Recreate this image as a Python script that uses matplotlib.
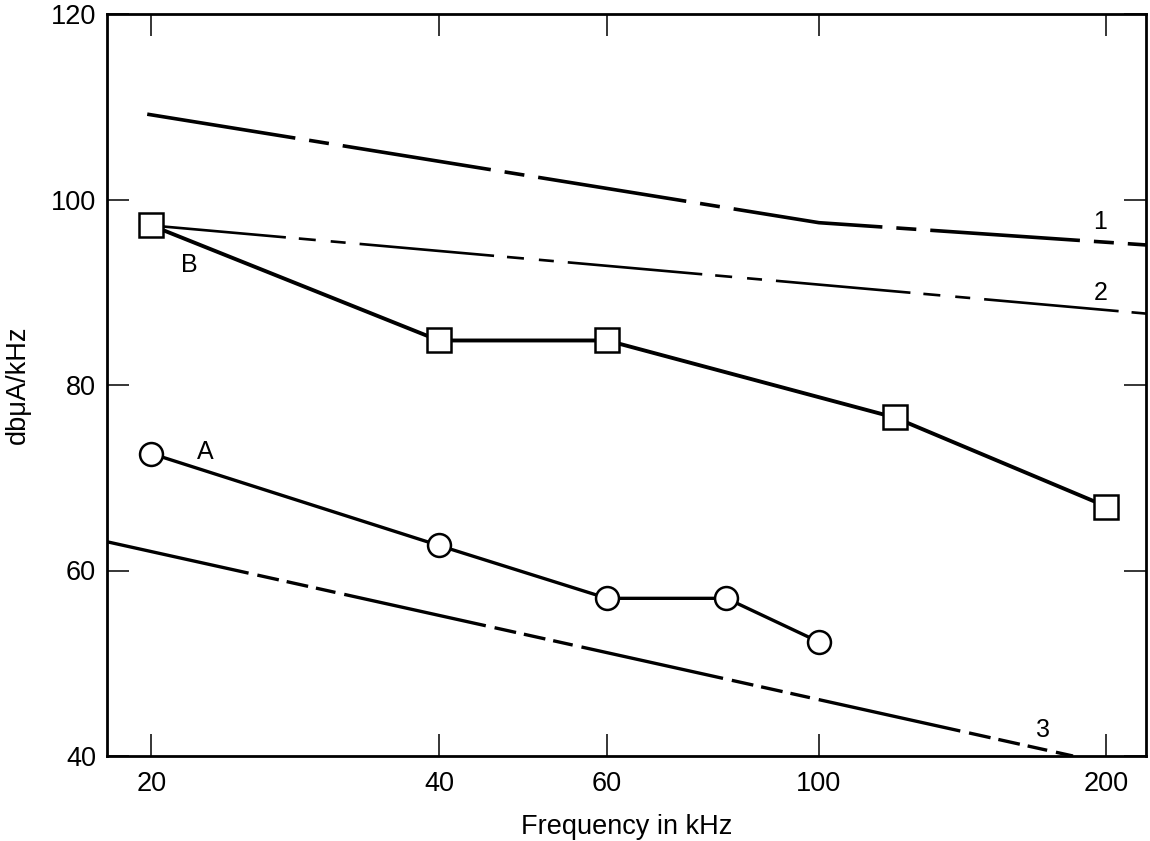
import matplotlib
matplotlib.use("Agg")
import matplotlib.pyplot as plt

plt.rcParams['font.family'] = ['Liberation Sans', 'DejaVu Sans']
plt.rcParams['lines.scale_dashes'] = False

# ---- data ----
freq_A = [20, 40, 60, 80, 100]
val_A = [72.6, 62.7, 57.0, 57.0, 52.3]

freq_B = [20, 40, 60, 120, 200]
val_B = [97.2, 84.8, 84.8, 76.5, 66.9]

freq_1 = [19.8, 100, 220]
val_1 = [109.2, 97.5, 95.1]

freq_2 = [20, 220]
val_2 = [97.2, 87.7]

freq_3 = [17.97, 184.5]
val_3 = [63.1, 40.0]

xticks = [20, 40, 60, 100, 200]
xtick_labels = ['20', '40', '60', '100', '200']
yticks = [40, 60, 80, 100, 120]

curve_labels = ['1', '2', '3', 'A', 'B']
label_x = [197, 197, 171.5, 22.8, 21.9]
label_y = [97.6, 89.9, 42.8, 72.8, 92.9]

PX = 72 / 100.0  # pixels -> points at dpi 100

fig = plt.figure(figsize=(11.5, 8.41), dpi=100)
ax = fig.add_axes([107 / 1150, 1 - 756 / 841, (1146 - 107) / 1150, (756 - 14) / 841])

ax.set_xscale('log')
ax.set_xlim(17.97, 220)
ax.set_ylim(40, 120)

# reference curves
l1, = ax.plot(freq_1, val_1, color='black', lw=2.6, solid_capstyle='butt')
l1.set_dashes([150 * PX, 14 * PX, 20 * PX, 14 * PX])
l2, = ax.plot(freq_2, val_2, color='black', lw=1.9)
l2.set_dashes([135 * PX, 13 * PX, 17 * PX, 15 * PX, 15 * PX, 14 * PX])
l3, = ax.plot(freq_3, val_3, color='black', lw=2.4)
l3.set_dashes([145 * PX, 9 * PX, 22 * PX, 8 * PX, 22 * PX, 8 * PX, 20 * PX, 9 * PX])

# measured curves
ax.plot(freq_B, val_B, color='black', lw=2.8, marker='s', ms=17,
        mfc='white', mec='black', mew=1.8, zorder=5)
ax.plot(freq_A, val_A, color='black', lw=2.4, marker='o', ms=16.5,
        mfc='white', mec='black', mew=1.8, zorder=5)

for t, x, y in zip(curve_labels, label_x, label_y):
    ax.text(x, y, t, fontsize=18, ha='center', va='center')

ax.set_xticks(xticks)
ax.set_xticklabels(xtick_labels)
ax.xaxis.set_minor_locator(matplotlib.ticker.NullLocator())
ax.set_yticks(yticks)

ax.tick_params(axis='both', which='major', direction='in', length=16, width=1.1,
               top=True, right=True, labelsize=19.5, pad=11)
ax.tick_params(axis='y', pad=8)

for s in ax.spines.values():
    s.set_linewidth(2.0)

ax.set_xlabel('Frequency in kHz', fontsize=19.5, labelpad=12)
ax.set_ylabel('db\u03bcA/kHz', fontsize=19.5, labelpad=14)

fig.savefig('out.png', dpi=100)
